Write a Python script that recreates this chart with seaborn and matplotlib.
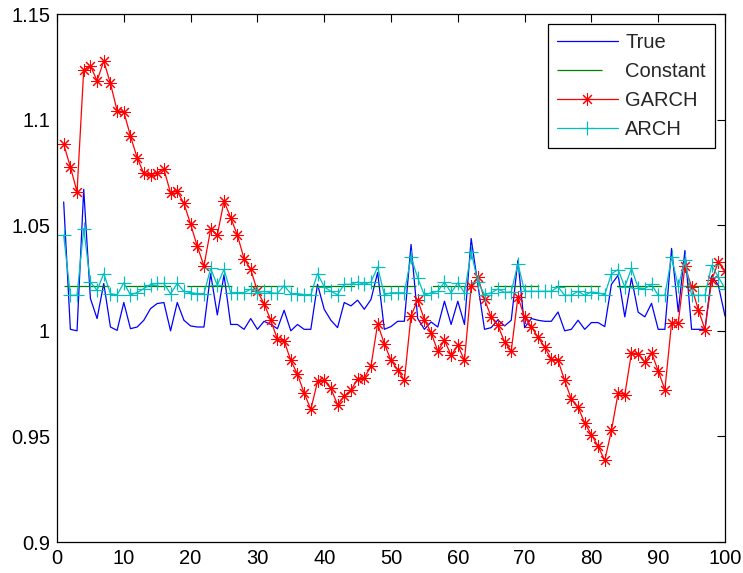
import numpy as np
import pandas as pd
import matplotlib
matplotlib.use("Agg")
import matplotlib.pyplot as plt
import seaborn as sns

# ---------------- data ----------------
t_index = list(range(1, 101))

true_vals = [1.061, 1.0007, 1.000, 1.067, 1.0153, 1.0058, 1.0224, 1.0018, 1.0002, 1.0134,
             1.001, 1.0018, 1.005, 1.0105, 1.0129, 1.0134, 1.000, 1.0134, 1.005, 1.0023,
             1.0018, 1.0018, 1.027, 1.0075, 1.0265, 1.003, 1.003, 1.0007, 1.0058, 1.0007,
             1.0045, 1.003, 1.001, 1.0097, 1.000, 1.003, 1.0007, 1.0007, 1.022, 1.0102,
             1.005, 1.0015, 1.0134, 1.0118, 1.0145, 1.0102, 1.0148, 1.0276, 1.0007, 1.002,
             1.0045, 1.0045, 1.0409, 1.0058, 1.0007, 1.0042, 1.0018, 1.014, 1.003, 1.014,
             1.003, 1.0437, 1.0219, 1.0007, 1.0015, 1.0052, 1.0023, 1.005, 1.0334, 1.0015,
             1.0058, 1.005, 1.0045, 1.0045, 1.0089, 1.000, 1.0007, 1.005, 1.0007, 1.0039,
             1.0039, 1.002, 1.022, 1.0263, 1.0066, 1.025, 1.0088, 1.0066, 1.013, 1.0007,
             1.0007, 1.039, 1.009, 1.038, 1.0007, 1.0007, 1.0007, 1.026, 1.0216, 1.007]

constant_vals = [1.0212] * 100

garch_vals = [1.0884, 1.0776, 1.0658, 1.1235, 1.1255, 1.1184, 1.1277, 1.1171, 1.1042, 1.1037,
              1.0922, 1.0819, 1.0745, 1.0737, 1.0748, 1.0765, 1.0653, 1.0661, 1.0603, 1.0505,
              1.040, 1.0307, 1.0481, 1.0453, 1.0614, 1.0536, 1.0453, 1.0342, 1.0291, 1.0187,
              1.0129, 1.005, 0.996, 0.9952, 0.986, 0.9794, 0.9705, 0.9628, 0.976, 0.9765,
              0.9727, 0.965, 0.9691, 0.9718, 0.9773, 0.9778, 0.9832, 1.0033, 0.9939, 0.986,
              0.9816, 0.9765, 1.0072, 1.0145, 1.0053, 0.9991, 0.9904, 0.9955, 0.9884, 0.9931,
              0.986, 1.0211, 1.0255, 1.0149, 1.0065, 1.0026, 0.9947, 0.9904, 1.016, 1.0065,
              1.002, 0.997, 0.9923, 0.9865, 0.986, 0.9765, 0.9675, 0.9639, 0.9563, 0.9508,
              0.9454, 0.9386, 0.9528, 0.9705, 0.9698, 0.9895, 0.9892, 0.9852, 0.9897, 0.981,
              0.9721, 1.0037, 1.0037, 1.0306, 1.0208, 1.010, 1.0006, 1.0239, 1.0326, 1.0283]

arch_vals = [1.0453, 1.0168, 1.0168, 1.0484, 1.0231, 1.0192, 1.0271, 1.0176, 1.017, 1.0227,
             1.017, 1.0181, 1.020, 1.0219, 1.0224, 1.0224, 1.0175, 1.0224, 1.0187, 1.0181,
             1.0176, 1.0176, 1.0295, 1.0216, 1.0291, 1.0181, 1.0181, 1.0181, 1.0197, 1.018,
             1.0187, 1.018, 1.0177, 1.0214, 1.0176, 1.0176, 1.0171, 1.0171, 1.0271, 1.0208,
             1.0187, 1.0171, 1.022, 1.022, 1.0231, 1.022, 1.0231, 1.0302, 1.0171, 1.018,
             1.018, 1.018, 1.035, 1.025, 1.0168, 1.018, 1.0187, 1.0231, 1.018, 1.0227,
             1.018, 1.0373, 1.0231, 1.0171, 1.018, 1.0198, 1.0182, 1.0184, 1.0318, 1.0187,
             1.0187, 1.0187, 1.0187, 1.0187, 1.0208, 1.0168, 1.0168, 1.0187, 1.0168, 1.0184,
             1.018, 1.0171, 1.027, 1.029, 1.0208, 1.0296, 1.0203, 1.020, 1.022, 1.0168,
             1.0168, 1.035, 1.021, 1.0334, 1.0168, 1.0168, 1.0168, 1.031, 1.0255, 1.020]

series_names = ["True", "Constant", "GARCH", "ARCH"]

x_ticks = [0, 10, 20, 30, 40, 50, 60, 70, 80, 90, 100]
y_ticks = [0.9, 0.95, 1.0, 1.05, 1.1, 1.15]
y_tick_labels = ["0.9", "0.95", "1", "1.05", "1.1", "1.15"]

# ---------------- style ----------------
sns.set_style("white")
plt.rcParams["font.family"] = ["Liberation Sans", "DejaVu Sans"]
plt.rcParams["lines.scale_dashes"] = False

W, H = 743, 573
fig = plt.figure(figsize=(W / 100, H / 100), dpi=100)
ax = fig.add_axes([57 / W, 1 - 542 / H, (725 - 57) / W, (542 - 14) / H])

lw = 0.9
c_true, c_const, c_garch, c_arch = "#0000ff", "#008000", "#ff0000", "#00bfbf"

sns.lineplot(x=t_index, y=true_vals, ax=ax, color=c_true, lw=lw,
             estimator=None, label=series_names[0])
sns.lineplot(x=t_index, y=constant_vals, ax=ax, color=c_const, lw=lw,
             estimator=None, label=series_names[1])
ax.lines[-1].set_linestyle((0, (32.4, 11.8)))
sns.lineplot(x=t_index, y=garch_vals, ax=ax, color=c_garch, lw=lw,
             marker=(8, 2, 0), markersize=9, markeredgewidth=0.75,
             markeredgecolor=c_garch, estimator=None, label=series_names[2])
sns.lineplot(x=t_index, y=arch_vals, ax=ax, color=c_arch, lw=lw,
             marker="+", markersize=10, markeredgewidth=0.85,
             markeredgecolor=c_arch, estimator=None, label=series_names[3])

ax.set_xlim(0, 100)
ax.set_ylim(0.9, 1.15)
ax.set_xticks(x_ticks)
ax.set_yticks(y_ticks, labels=y_tick_labels)
ax.set_xlabel("")
ax.set_ylabel("")
ax.tick_params(direction="in", length=6, width=0.8, top=True, right=True,
               labelsize=14.5, colors="black", pad=5)
for s in ax.spines.values():
    s.set_visible(True)
    s.set_color("black")
    s.set_linewidth(0.9)

leg = ax.legend(loc="upper right", fontsize=14.5, frameon=True, fancybox=False,
                edgecolor="black", framealpha=1, numpoints=1,
                handlelength=3.05, handletextpad=0.35, labelspacing=0.5,
                borderpad=0.45, borderaxespad=0.5)
leg.get_frame().set_linewidth(0.9)

fig.savefig("out.png", dpi=100)
